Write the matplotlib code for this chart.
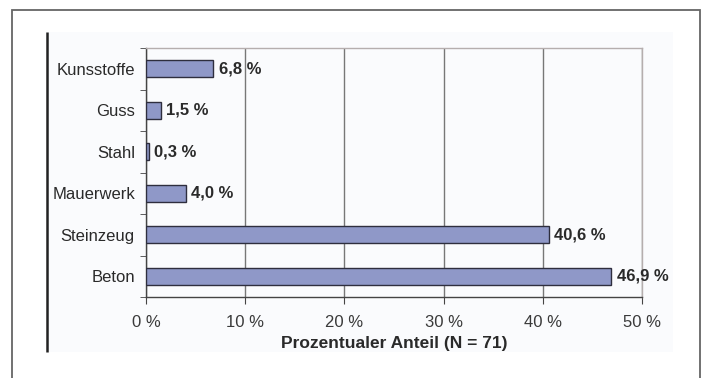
import matplotlib
matplotlib.use("Agg")
import matplotlib.pyplot as plt
from matplotlib.patches import Rectangle
from matplotlib.lines import Line2D
import numpy as np

plt.rcParams['font.family'] = ['Liberation Sans', 'DejaVu Sans']

categories = ["Beton", "Steinzeug", "Mauerwerk", "Stahl", "Guss", "Kunsstoffe"]
values = [46.9, 40.6, 4.0, 0.3, 1.5, 6.8]
xticks = [0, 10, 20, 30, 40, 50]
xtick_labels = ["0 %", "10 %", "20 %", "30 %", "40 %", "50 %"]
xlabel = "Prozentualer Anteil (N = 71)"

W, H = 705, 378
fig = plt.figure(figsize=(W / 100, H / 100), dpi=100)
fig.patch.set_facecolor("white")

# outer frame
fig.patches.append(Rectangle((12 / W, -0.05), (700 - 12) / W, 1.05 - 10 / H,
                             transform=fig.transFigure, fill=False,
                             edgecolor="#666666", linewidth=1.3, zorder=0))
# inner panel
fig.patches.append(Rectangle((47 / W, 1 - 352 / H), (673 - 47) / W, (352 - 32) / H,
                             transform=fig.transFigure, facecolor="#fafbfd",
                             edgecolor="none", zorder=0))
fig.lines.append(Line2D([47 / W, 47 / W], [1 - 352 / H, 1 - 32 / H],
                        transform=fig.transFigure, color="#222222", linewidth=1.8,
                        solid_capstyle="butt", zorder=1))

ax = fig.add_axes([146 / W, 1 - 297 / H, (642 - 146) / W, (297 - 48) / H])
ax.set_zorder(2)
ax.set_facecolor("none")

y = np.arange(len(categories))
ax.barh(y, values, height=0.4, color="#8f98c8", edgecolor="#2e2e3e",
        linewidth=1.0, zorder=3)

for yi, v in zip(y, values):
    ax.text(v + 0.55, yi, f"{v:.1f} %".replace(".", ","), va="center", ha="left",
            fontsize=12, fontweight="bold", color="#2a2a2a")

ax.set_xlim(0, 50)
ax.set_ylim(-0.5, len(categories) - 0.5)

ax.set_xticks(xticks)
ax.set_xticklabels(xtick_labels, fontsize=12, color="#3a3a3a")
ax.set_yticks(y)
ax.set_yticklabels(categories, fontsize=12, color="#2a2a2a")
ax.tick_params(axis="y", length=0, pad=8)
ax.set_yticks(np.arange(-0.5, len(categories), 1.0), minor=True)
ax.tick_params(axis="y", which="minor", length=4, color="#444444", direction="out")
ax.tick_params(axis="x", length=5, color="#444444", direction="out", pad=8)

ax.xaxis.grid(True, color="#777777", linewidth=1.0, zorder=1)
ax.set_axisbelow(True)

for side in ["top", "right"]:
    ax.spines[side].set_color("#b5aeae")
    ax.spines[side].set_linewidth(1.0)
for side in ["left", "bottom"]:
    ax.spines[side].set_color("#444444")
    ax.spines[side].set_linewidth(1.0)

ax.set_xlabel(xlabel, fontsize=12.5, fontweight="bold", color="#2a2a2a", labelpad=4)

fig.savefig("out.png", dpi=100)
